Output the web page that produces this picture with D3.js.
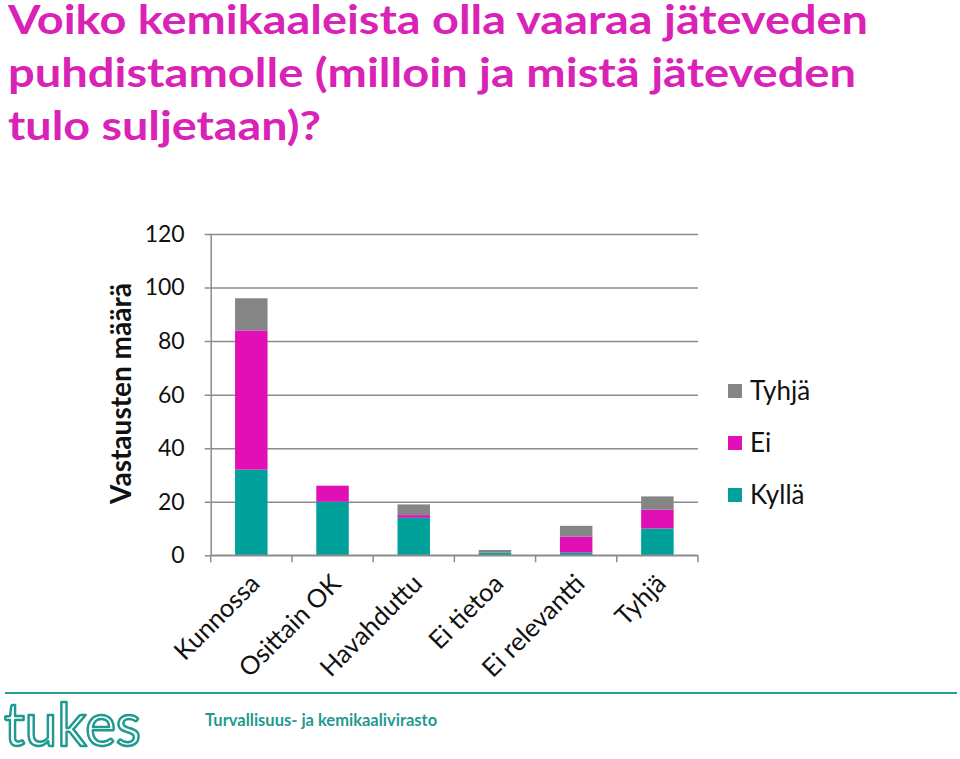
<!DOCTYPE html>
<html>
<head>
<meta charset="utf-8">
<script src="https://cdn.jsdelivr.net/npm/d3@7"></script>
<style>
  body { margin: 0; background: #fff; }
  svg { display: block; font-family: Lato, "Open Sans", sans-serif; }
</style>
</head>
<body>
<script>
const categories = ["Kunnossa", "Osittain OK", "Havahduttu", "Ei tietoa", "Ei relevantti", "Tyhjä"],
      kylla = [32, 20, 14, 1, 1, 10],
      ei = [52, 6, 1, 0, 6, 7],
      tyhja = [12, 0, 4, 1, 4, 5],
      seriesNames = ["Kyllä", "Ei", "Tyhjä"],
      yTicks = [0, 20, 40, 60, 80, 100, 120],
      titleLines = ["Voiko kemikaaleista olla vaaraa jäteveden",
                    "puhdistamolle (milloin ja mistä jäteveden",
                    "tulo suljetaan)?"];

const W = 960, H = 759,
      plot = {left: 210.7, right: 698, top: 234, bottom: 555.3},
      colors = {"Kyllä": "#00a19a", "Ei": "#e010b6", "Tyhjä": "#858585"},
      gridColor = "#8c8c8c",
      titleWidths = [860, 848, 313];

const svg = d3.select("body").append("svg")
  .attr("width", W)
  .attr("height", H);

// title
const title = svg.append("g").attr("fill", "#d922b6")
  .attr("font-weight", 700);
titleLines.forEach((t, i) => {
  title.append("text")
    .attr("x", 8)
    .attr("y", 34 + i * 53)
    .attr("font-size", 41)
    .attr("textLength", titleWidths[i])
    .attr("lengthAdjust", "spacingAndGlyphs")
    .text(t);
});

const table = categories.map((c, i) => ({cat: c, "Kyllä": kylla[i], "Ei": ei[i], "Tyhjä": tyhja[i]}));
const stacked = d3.stack().keys(seriesNames)(table);

const x = d3.scaleBand()
  .domain(categories)
  .range([plot.left, plot.right])
  .paddingInner(0.6)
  .paddingOuter(0.3);

const y = d3.scaleLinear()
  .domain([0, 120])
  .range([plot.bottom, plot.top]);

// gridlines + y axis
const yAxis = svg.append("g")
  .attr("transform", "translate(" + plot.left + ",0)")
  .call(d3.axisLeft(y).tickValues(yTicks).tickSizeInner(-(plot.right - plot.left)).tickSizeOuter(0).tickPadding(26));
yAxis.select(".domain").attr("stroke", gridColor).attr("stroke-width", 1.5);
yAxis.selectAll(".tick line").attr("stroke", gridColor).attr("stroke-width", 1.5)
  .attr("x1", -6);
yAxis.selectAll(".tick text")
  .attr("font-size", 23)
  .attr("fill", "#111")
  .attr("font-family", "Lato, sans-serif");

// bars
svg.append("g").selectAll("g")
  .data(stacked).enter()
  .append("g")
  .attr("fill", (d) => colors[d.key])
  .selectAll("rect")
  .data((d) => d).enter()
  .append("rect")
  .attr("x", (d) => x(d.data.cat))
  .attr("y", (d) => y(d[1]))
  .attr("width", x.bandwidth())
  .attr("height", (d) => y(d[0]) - y(d[1]));

// x axis: baseline with ticks at category boundaries
const xg = svg.append("g");
xg.append("line")
  .attr("x1", plot.left).attr("x2", plot.right)
  .attr("y1", y(0)).attr("y2", y(0))
  .attr("stroke", gridColor).attr("stroke-width", 1.5);
const step = x.step();
xg.selectAll(".bt")
  .data(categories).enter()
  .append("line")
  .attr("x1", (d) => x(d) - step * 0.3)
  .attr("x2", (d) => x(d) - step * 0.3)
  .attr("y1", y(0)).attr("y2", y(0) + 7)
  .attr("stroke", gridColor).attr("stroke-width", 1.5);
xg.append("line")
  .attr("x1", plot.right).attr("x2", plot.right)
  .attr("y1", y(0)).attr("y2", y(0) + 7)
  .attr("stroke", gridColor).attr("stroke-width", 1.5);

xg.selectAll(".xl")
  .data(categories).enter()
  .append("text")
  .attr("text-anchor", "end")
  .attr("font-size", 25.5)
  .attr("fill", "#111")
  .attr("transform", (d) => "translate(" + (x(d) + x.bandwidth() / 2 + 10) + "," + (y(0) + 30) + ") rotate(-45)")
  .text((d) => d);

// y axis title
svg.append("text")
  .attr("transform", "translate(131," + ((290 + 497) / 2) + ") rotate(-90)")
  .attr("text-anchor", "middle")
  .attr("font-size", 28)
  .attr("font-weight", 700)
  .attr("fill", "#111")
  .text("Vastausten määrä");

// legend
const legend = svg.append("g");
const legendItems = seriesNames.slice().reverse();
legendItems.forEach((k, i) => {
  legend.append("rect")
    .attr("x", 728).attr("y", 384 + i * 52)
    .attr("width", 14).attr("height", 14)
    .attr("fill", colors[k]);
  legend.append("text")
    .attr("x", 750).attr("y", 400 + i * 52)
    .attr("font-size", 26)
    .attr("fill", "#111")
    .text(k);
});

// footer
svg.append("line")
  .attr("x1", 5).attr("x2", 957)
  .attr("y1", 693).attr("y2", 693)
  .attr("stroke", "#2a9f96").attr("stroke-width", 2);

svg.append("text")
  .attr("x", 4).attr("y", 746)
  .attr("font-size", 60)
  .attr("font-family", "Lato, sans-serif")
  .attr("textLength", 137)
  .attr("lengthAdjust", "spacingAndGlyphs")
  .attr("fill", "#fff")
  .attr("stroke", "#1f9a90")
  .attr("stroke-width", 2.5)
  .attr("stroke-linejoin", "round")
  .text("tukes");

svg.append("text")
  .attr("x", 205).attr("y", 726)
  .attr("font-size", 16.5)
  .attr("font-weight", 700)
  .attr("fill", "#1f9a90")
  .text("Turvallisuus- ja kemikaalivirasto");
</script>
</body>
</html>
